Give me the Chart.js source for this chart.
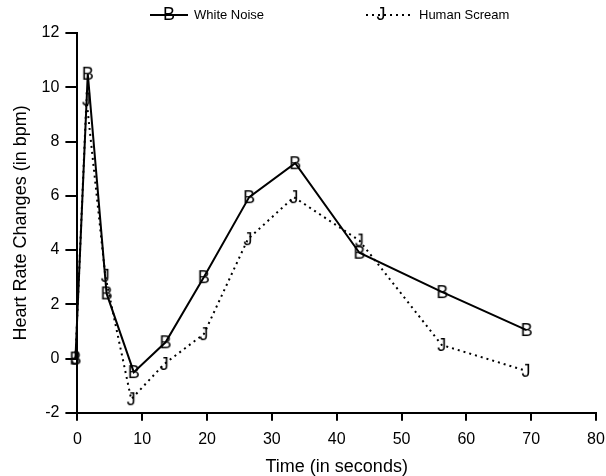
<!DOCTYPE html>
<html lang="en">
<head>
  <meta charset="UTF-8">
  <title>Heart Rate Changes</title>
  <style>
    body { margin: 0; background: #ffffff; }
    #wrap { width: 606px; height: 476px; }
  </style>
  <script src="https://cdn.jsdelivr.net/npm/chart.js"></script>
</head>
<body>
  <div id="wrap"><canvas id="hrChart" width="606" height="476"></canvas></div>
  <script>
    // data
    const whiteNoiseX = [-0.3, 1.6, 4.5, 8.7, 13.6, 19.5, 26.5, 33.6, 43.5, 56.3, 69.3];
    const whiteNoiseY = [0, 10.5, 2.4, -0.5, 0.6, 3.0, 5.95, 7.2, 3.9, 2.45, 1.05];
    const screamX = [-0.3, 1.4, 4.3, 8.3, 13.4, 19.5, 26.3, 33.4, 43.5, 56.2, 69.2];
    const screamY = [0, 9.55, 3.05, -1.5, -0.2, 0.9, 4.4, 5.95, 4.35, 0.5, -0.45];
    const xTicks = [0, 10, 20, 30, 40, 50, 60, 70, 80];
    const yTicks = [-2, 0, 2, 4, 6, 8, 10, 12];

    const FONT = '"Liberation Sans", Arial, sans-serif';

    function letterMarker(ch) {
      const c = document.createElement('canvas');
      c.width = 22; c.height = 22;
      const g = c.getContext('2d');
      g.fillStyle = '#000';
      g.font = '18px ' + FONT;
      g.textAlign = 'center';
      g.textBaseline = 'middle';
      g.fillText(ch, 11, 12);
      return c;
    }
    const markB = letterMarker('B');
    const markJ = letterMarker('J');

    function toPoints(xs, ys) {
      return xs.map((x, i) => ({ x: x, y: ys[i] }));
    }

    // simple legend drawn above the plot
    const topLegend = {
      id: 'topLegend',
      afterDraw(chart) {
        const ctx = chart.ctx;
        const y = 15;
        ctx.save();
        ctx.strokeStyle = '#000';
        ctx.lineWidth = 2;
        ctx.beginPath(); ctx.moveTo(150, y); ctx.lineTo(188, y); ctx.stroke();
        ctx.drawImage(markB, 169 - 11, y - 12);
        ctx.setLineDash([2, 4]);
        ctx.beginPath(); ctx.moveTo(366, y); ctx.lineTo(410, y); ctx.stroke();
        ctx.drawImage(markJ, 381 - 11, y - 12);
        ctx.fillStyle = '#000';
        ctx.font = '13px ' + FONT;
        ctx.textBaseline = 'middle';
        ctx.fillText('White Noise', 194, y);
        ctx.fillText('Human Scream', 419, y);
        ctx.restore();
      }
    };

    new Chart(document.getElementById('hrChart'), {
      type: 'line',
      data: {
        datasets: [
          {
            label: 'White Noise',
            data: toPoints(whiteNoiseX, whiteNoiseY),
            borderColor: '#000',
            borderWidth: 2,
            pointStyle: markB,
            pointRadius: 8,
            fill: false,
            clip: false,
            tension: 0
          },
          {
            label: 'Human Scream',
            data: toPoints(screamX, screamY),
            borderColor: '#000',
            borderWidth: 2,
            borderDash: [2, 4],
            pointStyle: markJ,
            pointRadius: 8,
            fill: false,
            clip: false,
            tension: 0
          }
        ]
      },
      options: {
        responsive: false,
        animation: false,
        layout: { padding: { top: 33, right: 0, left: 6, bottom: 0 } },
        plugins: {
          legend: { display: false },
          tooltip: { enabled: false }
        },
        scales: {
          x: {
            type: 'linear',
            min: 0,
            max: 80,
            afterBuildTicks: axis => { axis.ticks = xTicks.map(v => ({ value: v })); },
            afterFit: axis => { axis.paddingRight = 10; },
            grid: { drawOnChartArea: false, color: '#000', tickLength: 8, lineWidth: 2 },
            border: { color: '#000', width: 2 },
            ticks: { color: '#000', font: { family: FONT, size: 16 }, padding: 9 },
            title: { display: true, text: 'Time (in seconds)', color: '#000', font: { family: FONT, size: 18, lineHeight: 1.0 }, padding: { top: 0, bottom: 0 } }
          },
          y: {
            type: 'linear',
            min: -2,
            max: 12,
            afterBuildTicks: axis => { axis.ticks = yTicks.map(v => ({ value: v })); },
            grid: { drawOnChartArea: false, color: '#000', tickLength: 12, lineWidth: 2 },
            border: { color: '#000', width: 2 },
            ticks: { color: '#000', font: { family: FONT, size: 16 }, padding: 6 },
            title: { display: true, text: 'Heart Rate Changes (in bpm)', color: '#000', font: { family: FONT, size: 18 }, padding: { bottom: 4 } }
          }
        }
      },
      plugins: [topLegend]
    });
  </script>
</body>
</html>
